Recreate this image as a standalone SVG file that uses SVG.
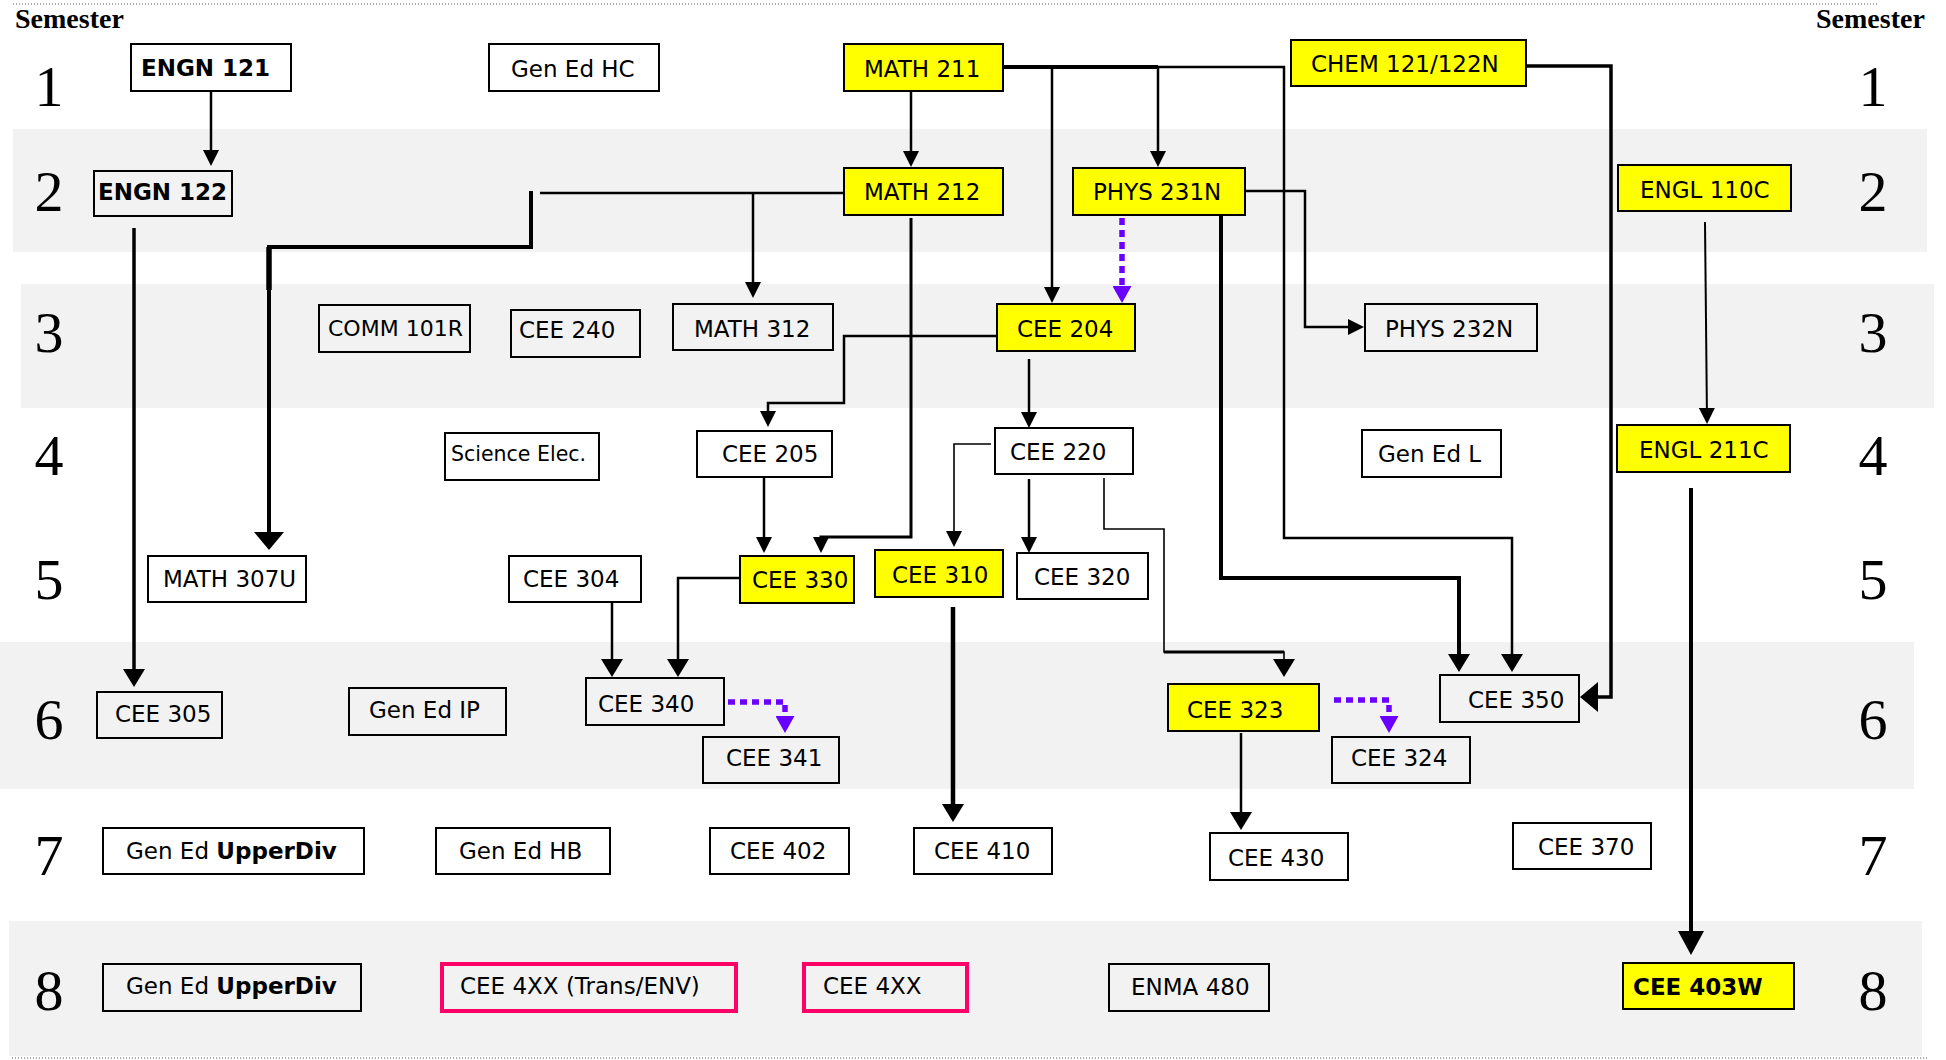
<svg xmlns="http://www.w3.org/2000/svg" width="1946" height="1060" viewBox="0 0 1946 1060">
<defs>
<style>
.band{fill:#f2f2f2}
.sem{font-family:"Liberation Serif","Times New Roman",serif;font-size:28px;font-weight:bold;fill:#000}
.num{font-family:"Liberation Serif","Times New Roman",serif;font-size:58px;fill:#000;text-anchor:middle}
.box{fill:none;stroke:#000;stroke-width:2}
.yel{fill:#ffff00;stroke:#000;stroke-width:2}
.pink{fill:none;stroke:#ff0066;stroke-width:4}
.lbl{font-family:"DejaVu Sans",Verdana,sans-serif;font-size:23px;fill:#000}
.b{font-weight:bold}
.c{fill:none;stroke:#000;stroke-width:2.5}
.t{fill:none;stroke:#000;stroke-width:1.6}
.k{fill:none;stroke:#000;stroke-width:4}
.p{fill:none;stroke:#6a00ff;stroke-width:5.5;stroke-dasharray:7 5}
.dot{fill:none;stroke:#555;stroke-width:1;stroke-dasharray:1 2}
</style>
<marker id="a" markerUnits="userSpaceOnUse" markerWidth="16" markerHeight="16" refX="12" refY="8" orient="auto"><path d="M0,0 L16,8 L0,16 Z" fill="#000"/></marker>
<marker id="am" markerUnits="userSpaceOnUse" markerWidth="18" markerHeight="22" refX="14" refY="11" orient="auto"><path d="M0,0 L18,11 L0,22 Z" fill="#000"/></marker>
<marker id="ab" markerUnits="userSpaceOnUse" markerWidth="18" markerHeight="30" refX="14" refY="15" orient="auto"><path d="M0,0 L18,15 L0,30 Z" fill="#000"/></marker>
<marker id="al" markerUnits="userSpaceOnUse" markerWidth="24" markerHeight="26" refX="20" refY="13" orient="auto"><path d="M0,0 L24,13 L0,26 Z" fill="#000"/></marker>
<marker id="ap" markerUnits="userSpaceOnUse" markerWidth="17" markerHeight="19" refX="13" refY="9.5" orient="auto"><path d="M0,0 L17,9.5 L0,19 Z" fill="#6a00ff"/></marker>
</defs>
<rect width="1946" height="1060" fill="#fff"/>
<g id="bands">
<rect class="band" x="13" y="129" width="1914" height="123"/>
<rect class="band" x="21" y="284" width="1913" height="124"/>
<rect class="band" x="0" y="642" width="1914" height="147"/>
<rect class="band" x="9" y="921" width="1913" height="135"/>
<line class="dot" x1="13" y1="4" x2="1879" y2="4"/>
<line class="dot" x1="12" y1="1058" x2="1928" y2="1058"/>
</g>
<g id="semester-labels">
<text class="sem" x="15" y="28">Semester</text>
<text class="sem" x="1816" y="28">Semester</text>
<text class="num" x="49" y="106">1</text>
<text class="num" x="49" y="211">2</text>
<text class="num" x="49" y="352">3</text>
<text class="num" x="49" y="475">4</text>
<text class="num" x="49" y="599">5</text>
<text class="num" x="49" y="739">6</text>
<text class="num" x="49" y="875">7</text>
<text class="num" x="49" y="1010">8</text>
<text class="num" x="1873" y="106">1</text>
<text class="num" x="1873" y="211">2</text>
<text class="num" x="1873" y="352">3</text>
<text class="num" x="1873" y="475">4</text>
<text class="num" x="1873" y="599">5</text>
<text class="num" x="1873" y="739">6</text>
<text class="num" x="1873" y="875">7</text>
<text class="num" x="1873" y="1010">8</text>
</g>
<g id="connectors">
<path class="c" d="M211,92 V162" marker-end="url(#a)"/>
<path class="c" d="M843,193 H540"/>
<path class="k" d="M531,191 V247 H269 V546" marker-end="url(#ab)"/>
<path class="k" style="stroke-width:5.5" d="M269,247 V290"/>
<path class="c" d="M753,193 V294" marker-end="url(#a)"/>
<path class="c" d="M911,92 V163" marker-end="url(#a)"/>
<path class="c" d="M1004,67 H1284 V538 H1512 V668" marker-end="url(#am)"/>
<path class="k" d="M1004,67 H1158"/>
<path class="c" d="M1052,67 V299" marker-end="url(#a)"/>
<path class="c" d="M1158,67 V163" marker-end="url(#a)"/>
<path class="p" d="M1122,218 V299" marker-end="url(#ap)"/>
<path class="c" d="M1246,191 H1305 V327 H1360" marker-end="url(#a)"/>
<path class="k" d="M1221,215 V578 H1459 V668" marker-end="url(#am)"/>
<path class="c" style="stroke-width:3.5" d="M1527,66 H1611 V697 H1584" marker-end="url(#ab)"/>
<path class="c" style="stroke-width:2" d="M1705,222 L1707,420" marker-end="url(#a)"/>
<path class="k" d="M1691,488 V951" marker-end="url(#al)"/>
<path class="c" style="stroke-width:3.5" d="M134,228 V683" marker-end="url(#am)"/>
<path class="c" d="M996,336 H844 V403 H768 V423" marker-end="url(#a)"/>
<path class="c" style="stroke-width:3" d="M911,218 V537 H821 V549" marker-end="url(#a)"/>
<path class="c" d="M764,478 V549" marker-end="url(#a)"/>
<path class="c" d="M1029,359 V424" marker-end="url(#a)"/>
<path class="t" d="M991,444 H954 V543" marker-end="url(#a)"/>
<path class="c" d="M1029,479 V549" marker-end="url(#a)"/>
<path class="t" d="M1104,478 V529 H1164 V652 H1284 V673" marker-end="url(#am)"/>
<path class="c" style="stroke-width:3" d="M1164,652 H1284"/>
<path class="c" d="M612,603 V673" marker-end="url(#am)"/>
<path class="c" d="M739,578 H678 V673" marker-end="url(#am)"/>
<path class="p" d="M728,702 H785 V729" marker-end="url(#ap)"/>
<path class="k" style="stroke-width:4.5" d="M953,607 V818" marker-end="url(#am)"/>
<path class="c" d="M1241,733 V826" marker-end="url(#am)"/>
<path class="p" d="M1334,700 H1389 V729" marker-end="url(#ap)"/>
</g>
<g id="n-engn121"><rect class="box" x="131" y="44" width="160" height="47"/><text class="lbl b" x="141" y="76">ENGN 121</text></g>
<g id="n-gened-hc"><rect class="box" x="489" y="44" width="170" height="47"/><text class="lbl" x="511" y="77">Gen Ed HC</text></g>
<g id="n-math211"><rect class="yel" x="844" y="44" width="159" height="47"/><text class="lbl" x="864" y="77">MATH 211</text></g>
<g id="n-chem121"><rect class="yel" x="1291" y="40" width="235" height="46"/><text class="lbl" x="1311" y="72">CHEM 121/122N</text></g>
<g id="n-engn122"><rect class="box" x="94" y="171" width="138" height="45"/><text class="lbl b" x="98" y="200">ENGN 122</text></g>
<g id="n-math212"><rect class="yel" x="844" y="168" width="159" height="47"/><text class="lbl" x="864" y="200">MATH 212</text></g>
<g id="n-phys231"><rect class="yel" x="1073" y="168" width="172" height="47"/><text class="lbl" x="1093" y="200">PHYS 231N</text></g>
<g id="n-engl110"><rect class="yel" x="1618" y="165" width="173" height="46"/><text class="lbl" x="1640" y="198">ENGL 110C</text></g>
<g id="n-comm101"><rect class="box" x="319" y="305" width="151" height="47"/><text class="lbl" style="font-size:22px" x="328" y="336">COMM 101R</text></g>
<g id="n-cee240"><rect class="box" x="511" y="310" width="129" height="47"/><text class="lbl" x="519" y="338">CEE 240</text></g>
<g id="n-math312"><rect class="box" x="673" y="304" width="160" height="46"/><text class="lbl" x="694" y="337">MATH 312</text></g>
<g id="n-cee204"><rect class="yel" x="997" y="304" width="138" height="47"/><text class="lbl" x="1017" y="337">CEE 204</text></g>
<g id="n-phys232"><rect class="box" x="1365" y="304" width="172" height="47"/><text class="lbl" x="1385" y="337">PHYS 232N</text></g>
<g id="n-sci-elec"><rect class="box" x="445" y="433" width="154" height="47"/><text class="lbl" style="font-size:20.5px" x="451" y="461">Science Elec.</text></g>
<g id="n-cee205"><rect class="box" x="697" y="431" width="135" height="46"/><text class="lbl" x="722" y="462">CEE 205</text></g>
<g id="n-cee220"><rect class="box" x="995" y="428" width="138" height="46"/><text class="lbl" x="1010" y="460">CEE 220</text></g>
<g id="n-gened-l"><rect class="box" x="1362" y="430" width="139" height="47"/><text class="lbl" x="1378" y="462">Gen Ed L</text></g>
<g id="n-engl211"><rect class="yel" x="1617" y="425" width="173" height="47"/><text class="lbl" x="1639" y="458">ENGL 211C</text></g>
<g id="n-math307"><rect class="box" x="148" y="556" width="158" height="46"/><text class="lbl" x="163" y="587">MATH 307U</text></g>
<g id="n-cee304"><rect class="box" x="509" y="556" width="132" height="46"/><text class="lbl" x="523" y="587">CEE 304</text></g>
<g id="n-cee330"><rect class="yel" x="740" y="556" width="114" height="47"/><text class="lbl" x="752" y="588">CEE 330</text></g>
<g id="n-cee310"><rect class="yel" x="875" y="550" width="128" height="47"/><text class="lbl" x="892" y="583">CEE 310</text></g>
<g id="n-cee320"><rect class="box" x="1017" y="553" width="131" height="46"/><text class="lbl" x="1034" y="585">CEE 320</text></g>
<g id="n-cee305"><rect class="box" x="97" y="692" width="125" height="46"/><text class="lbl" x="115" y="722">CEE 305</text></g>
<g id="n-gened-ip"><rect class="box" x="349" y="688" width="157" height="47"/><text class="lbl" x="369" y="718">Gen Ed IP</text></g>
<g id="n-cee340"><rect class="box" x="586" y="678" width="138" height="47"/><text class="lbl" x="598" y="712">CEE 340</text></g>
<g id="n-cee341"><rect class="box" x="703" y="737" width="136" height="46"/><text class="lbl" x="726" y="766">CEE 341</text></g>
<g id="n-cee323"><rect class="yel" x="1168" y="684" width="151" height="47"/><text class="lbl" x="1187" y="718">CEE 323</text></g>
<g id="n-cee324"><rect class="box" x="1332" y="737" width="138" height="46"/><text class="lbl" x="1351" y="766">CEE 324</text></g>
<g id="n-cee350"><rect class="box" x="1440" y="675" width="139" height="47"/><text class="lbl" x="1468" y="708">CEE 350</text></g>
<g id="n-gened-ud7"><rect class="box" x="103" y="828" width="261" height="46"/><text class="lbl" x="126" y="859">Gen Ed <tspan class="b">UpperDiv</tspan></text></g>
<g id="n-gened-hb"><rect class="box" x="436" y="828" width="174" height="46"/><text class="lbl" x="459" y="859">Gen Ed HB</text></g>
<g id="n-cee402"><rect class="box" x="710" y="828" width="139" height="46"/><text class="lbl" x="730" y="859">CEE 402</text></g>
<g id="n-cee410"><rect class="box" x="914" y="828" width="138" height="46"/><text class="lbl" x="934" y="859">CEE 410</text></g>
<g id="n-cee430"><rect class="box" x="1210" y="833" width="138" height="47"/><text class="lbl" x="1228" y="866">CEE 430</text></g>
<g id="n-cee370"><rect class="box" x="1513" y="823" width="138" height="46"/><text class="lbl" x="1538" y="855">CEE 370</text></g>
<g id="n-gened-ud8"><rect class="box" x="103" y="964" width="258" height="47"/><text class="lbl" x="126" y="994">Gen Ed <tspan class="b">UpperDiv</tspan></text></g>
<g id="n-cee4xx-trans"><rect class="pink" x="442" y="964" width="294" height="47"/><text class="lbl" x="460" y="994">CEE 4XX (Trans/ENV)</text></g>
<g id="n-cee4xx"><rect class="pink" x="804" y="964" width="163" height="47"/><text class="lbl" x="823" y="994">CEE 4XX</text></g>
<g id="n-enma480"><rect class="box" x="1109" y="964" width="160" height="47"/><text class="lbl" x="1131" y="995">ENMA 480</text></g>
<g id="n-cee403w"><rect class="yel" x="1623" y="963" width="171" height="46"/><text class="lbl b" x="1633" y="995">CEE 403W</text></g>
</svg>
